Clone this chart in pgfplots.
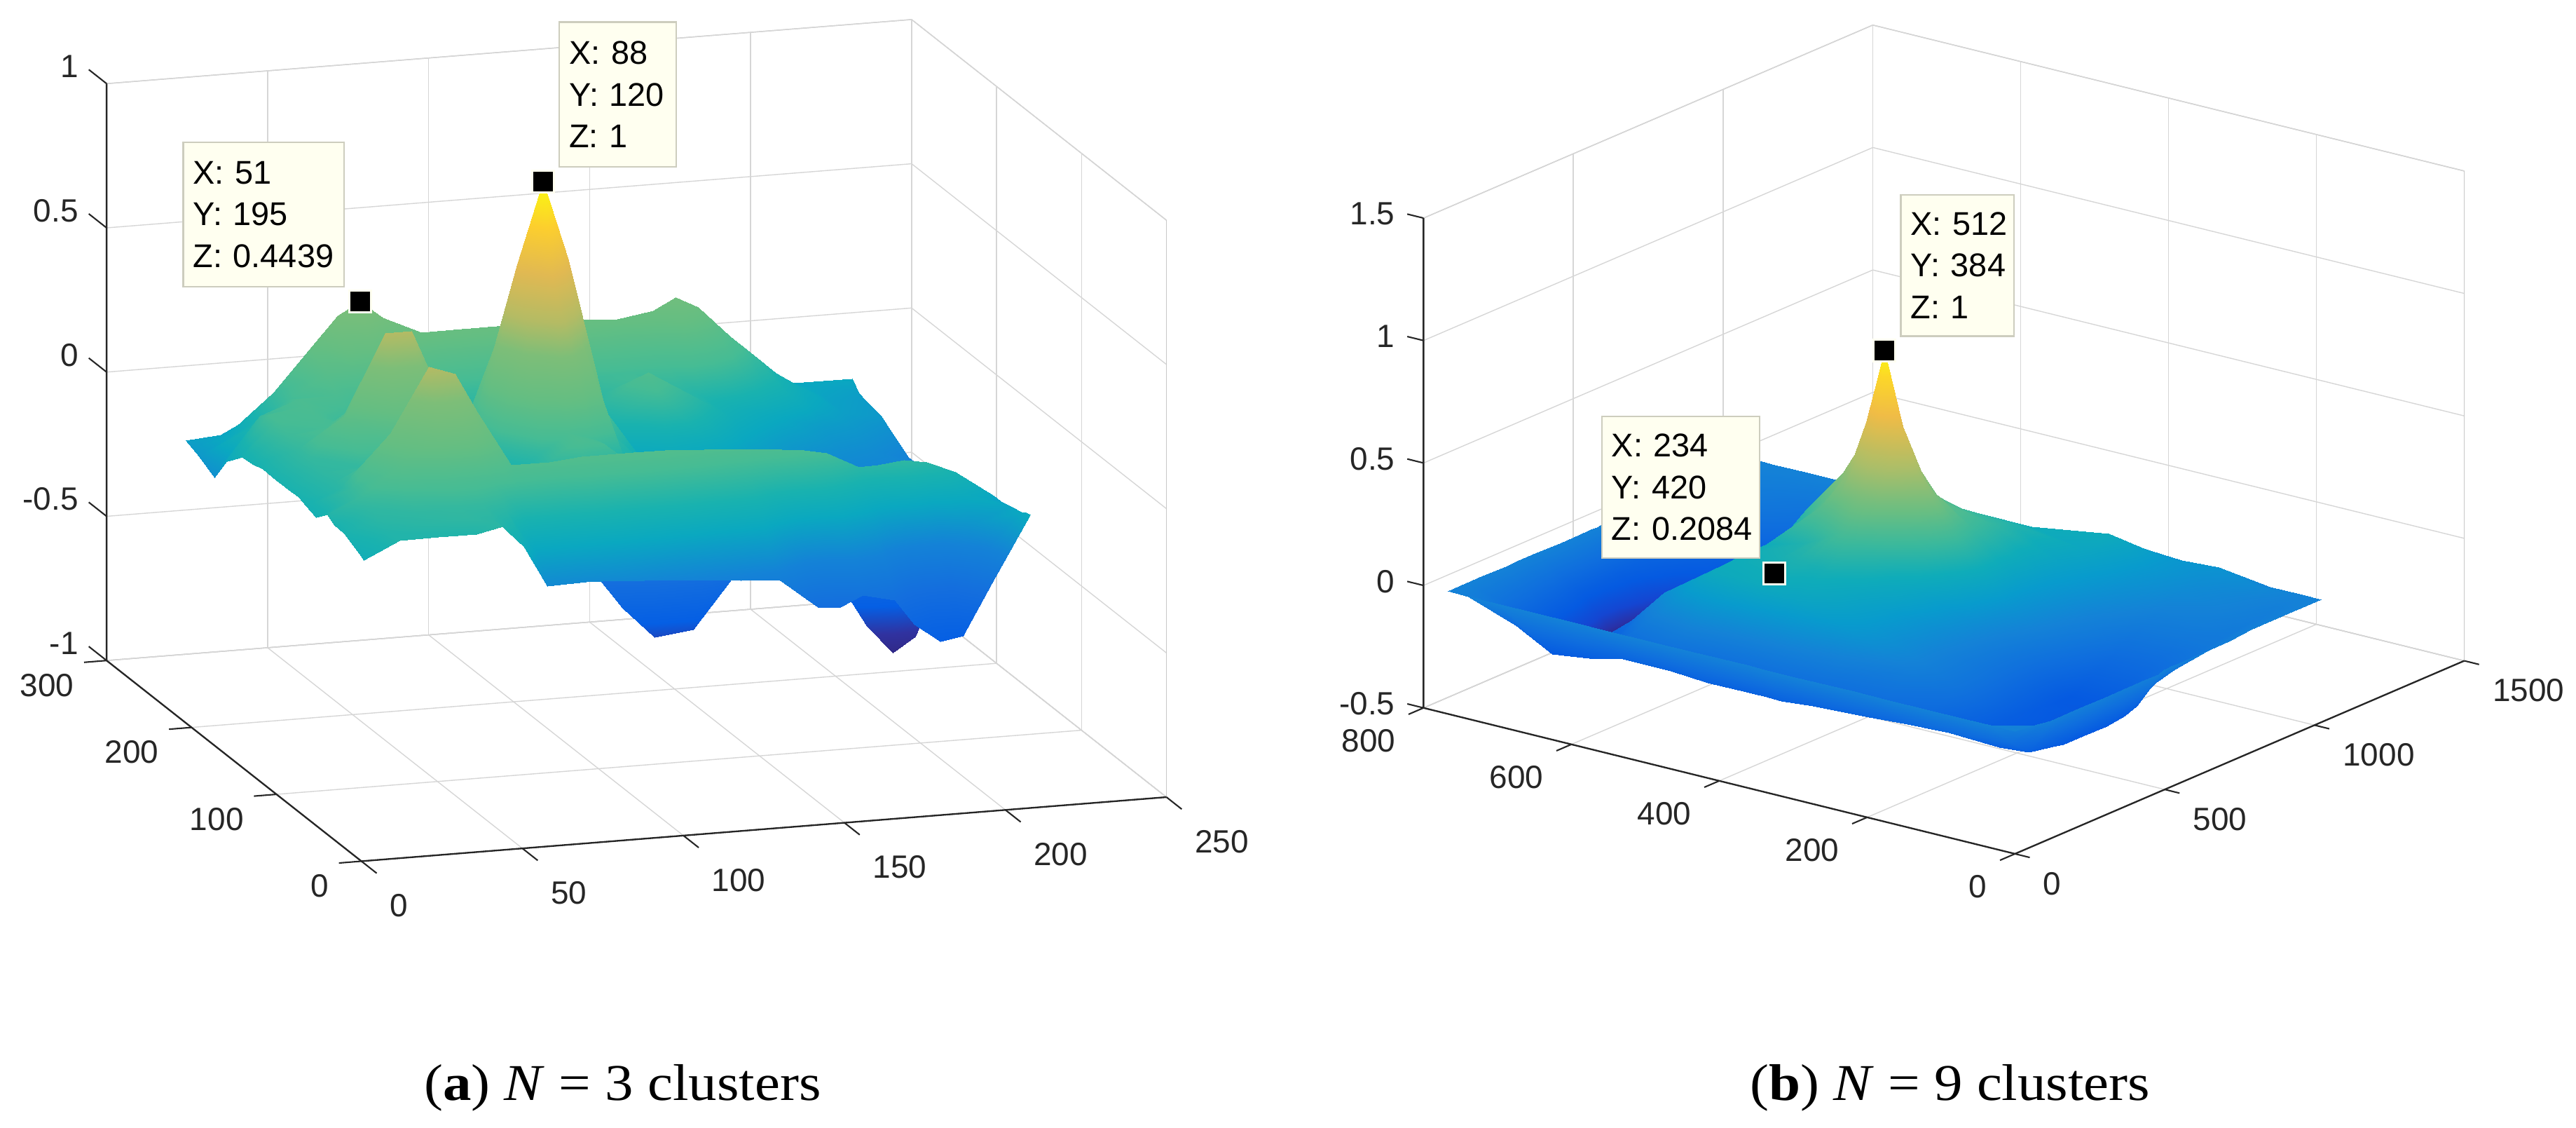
\documentclass[border=0pt]{standalone}
\usepackage{fontspec}
\setmainfont{Liberation Sans}
\newfontfamily\capfont[FakeStretch=1.1]{Liberation Serif}
\usepackage{pgfplots}
\pgfplotsset{compat=1.18}
\definecolor{tick}{RGB}{38,38,38}
\definecolor{tipfill}{RGB}{255,255,240}
\definecolor{tipline}{RGB}{205,205,190}
\pgfplotsset{
  colormap={lmap}{rgb255(0pt)=(50,38,125) rgb255(10pt)=(48,50,160) rgb255(20pt)=(5,95,228) rgb255(35pt)=(20,110,222) rgb255(48pt)=(20,130,215) rgb255(60pt)=(10,168,192) rgb255(68pt)=(25,178,175) rgb255(78pt)=(70,188,148) rgb255(90pt)=(100,190,130) rgb255(104pt)=(125,190,120) rgb255(115pt)=(180,187,100) rgb255(130pt)=(225,185,82) rgb255(145pt)=(252,206,46) rgb255(160pt)=(249,251,14)},
  colormap={rmap}{rgb255(0pt)=(45,40,140) rgb255(2pt)=(40,50,170) rgb255(6pt)=(20,70,210) rgb255(12pt)=(5,90,225) rgb255(22pt)=(15,110,222) rgb255(32pt)=(20,130,215) rgb255(42pt)=(8,155,205) rgb255(52pt)=(15,172,185) rgb255(62pt)=(60,185,155) rgb255(72pt)=(105,190,130) rgb255(87pt)=(170,190,105) rgb255(107pt)=(240,188,70) rgb255(122pt)=(252,215,40) rgb255(132pt)=(249,251,14)},
  wall/.style={
    clip=false, grid=major, major grid style={black!16, line width=0.3pt},
    axis line style={black!22, line width=0.3pt},
    tick align=outside, major tick length=6.5pt, xtick pos=left, ytick pos=left, ztick pos=left,
    tick style={draw=none},
    ticklabel style={font=\fontsize{9.8}{11}\selectfont, text=tick},
  },
  tip/.style={mark=square*, only marks, mark size=3.3pt, mark options={fill=black, draw=tipfill, line width=0.6pt}},
}
\tikzset{datatip/.style={draw=tipline, fill=tipfill, line width=0.5pt, anchor=north west, align=left, inner sep=0pt, font=\fontsize{10}{12.7}\selectfont, text=black}}
\begin{document}
\begin{tikzpicture}[x=0.5pt,y=0.5pt]
\useasboundingbox (0,0) rectangle (1568,686);
\begin{axis}[wall, colormap name=lmap, at={(110pt,168.75pt)}, anchor=origin,
  x={(0.98pt,0.078pt)}, y={(-0.2585pt,0.2035pt)}, z={(0pt,87.75pt)},
  xmin=0, xmax=250, ymin=0, ymax=300, zmin=-1, zmax=1,
  xtick={0,50,100,150,200,250}, ytick={0,100,200,300}, ztick={-1,-0.5,0,0.5,1},
  xticklabels={0,50,100,150,200,250}, yticklabels={0,100,200,300}, zticklabels={-1,-0.5,0,0.5,1},
  xticklabel style={anchor=west, yshift=-9.5pt},
  yticklabel style={anchor=east, yshift=-7pt},
  zticklabel style={anchor=east, yshift=1.2pt},
  point meta min=-0.6, point meta max=1]
\addplot3[surf, shader=interp, point meta=z] coordinates {
(1,1,0.04)(12,1,0.10)(24,1,0.10)(36,1,0.10)(44,1,0.12)(51,1,0.04)(58,1,-0.10)(70,1,-0.096)(80,1,-0.10)(88,1,-0.106)(96,1,-0.113)(106,1,-0.12)(118,1,-0.133)(130,1,-0.143)(142,1,-0.248)(149,1,-0.254)(156,1,-0.218)(166,1,-0.244)(172,1,-0.335)(180,1,-0.40)(187,1,-0.388)(196,1,-0.214)(208,1,0.015)

(1,6,0.05)(12,6,0.10)(24,6,0.10)(36,6,0.11)(44,6,0.12)(51,6,0.05)(58,6,-0.06)(70,6,-0.06)(80,6,-0.06)(88,6,-0.067)(96,6,-0.073)(106,6,-0.08)(118,6,-0.09)(130,6,-0.10)(142,6,-0.196)(149,6,-0.20)(156,6,-0.172)(166,6,-0.20)(172,6,-0.28)(180,6,-0.34)(187,6,-0.33)(196,6,-0.18)(208,6,0.01)

(1,12,0.06)(12,12,0.10)(24,12,0.12)(36,12,0.13)(44,12,0.12)(51,12,0.08)(58,12,-0.02)(70,12,-0.015)(80,12,-0.015)(88,12,-0.02)(96,12,-0.025)(106,12,-0.03)(118,12,-0.043)(130,12,-0.05)(142,12,-0.133)(149,12,-0.14)(156,12,-0.117)(166,12,-0.15)(172,12,-0.22)(180,12,-0.264)(187,12,-0.26)(196,12,-0.14)(208,12,0.0)

(1,24,0.08)(12,24,0.12)(24,24,0.13)(36,24,0.14)(44,24,0.14)(51,24,0.12)(58,24,0.07)(70,24,0.073)(80,24,0.077)(88,24,0.074)(96,24,0.07)(106,24,0.067)(118,24,0.056)(130,24,0.046)(142,24,-0.008)(149,24,-0.016)(156,24,-0.008)(166,24,-0.05)(172,24,-0.09)(180,24,-0.116)(187,24,-0.12)(196,24,-0.06)(208,24,-0.01)

(1,36,0.08)(12,36,0.13)(24,36,0.17)(36,36,0.20)(44,36,0.20)(51,36,0.18)(58,36,0.16)(70,36,0.16)(80,36,0.167)(88,36,0.166)(96,36,0.165)(106,36,0.163)(118,36,0.153)(130,36,0.143)(142,36,0.115)(149,36,0.106)(156,36,0.10)(166,36,0.05)(172,36,0.033)(180,36,0.03)(187,36,0.02)(196,36,0.02)(208,36,-0.02)

(1,44,0.10)(12,44,0.16)(24,44,0.25)(36,44,0.33)(44,44,0.34)(51,44,0.28)(58,44,0.22)(70,44,0.22)(80,44,0.23)(88,44,0.23)(96,44,0.23)(106,44,0.23)(118,44,0.22)(130,44,0.21)(142,44,0.20)(149,44,0.19)(156,44,0.175)(166,44,0.118)(172,44,0.12)(180,44,0.13)(187,44,0.115)(196,44,0.074)(208,44,-0.02)

(1,57,0.06)(12,57,0.15)(24,57,0.33)(36,57,0.55)(44,57,0.52)(51,57,0.38)(58,57,0.12)(70,57,-0.08)(80,57,-0.12)(88,57,-0.22)(96,57,-0.34)(106,57,-0.45)(118,57,-0.433)(130,57,-0.27)(142,57,-0.24)(149,57,-0.26)(156,57,-0.28)(166,57,-0.357)(172,57,-0.47)(180,57,-0.57)(187,57,-0.52)(196,57,-0.30)(208,57,-0.10)

(1,70,0.07)(12,70,0.12)(24,70,0.22)(36,70,0.36)(44,70,0.34)(51,70,0.26)(58,70,0.15)(70,70,0.07)(80,70,0.10)(88,70,0.12)(96,70,0.08)(106,70,0.02)(118,70,-0.06)(130,70,-0.06)(142,70,-0.05)(149,70,-0.06)(156,70,-0.08)(166,70,-0.12)(172,70,-0.16)(180,70,-0.20)(187,70,-0.18)(196,70,-0.12)(208,70,-0.08)

(1,78,0.08)(12,78,0.12)(24,78,0.16)(36,78,0.22)(44,78,0.21)(51,78,0.16)(58,78,0.10)(70,78,0.08)(80,78,0.15)(88,78,0.20)(96,78,0.18)(106,78,0.09)(118,78,0.02)(130,78,0.0)(142,78,-0.03)(149,78,-0.04)(156,78,-0.06)(166,78,-0.08)(172,78,-0.09)(180,78,-0.11)(187,78,-0.11)(196,78,-0.10)(208,78,-0.09)

(1,90,0.08)(12,90,0.13)(24,90,0.14)(36,90,0.17)(44,90,0.17)(51,90,0.13)(58,90,0.06)(70,90,0.05)(80,90,0.14)(88,90,0.20)(96,90,0.17)(106,90,0.07)(118,90,0.0)(130,90,-0.01)(142,90,-0.04)(149,90,-0.05)(156,90,-0.07)(166,90,-0.09)(172,90,-0.10)(180,90,-0.11)(187,90,-0.12)(196,90,-0.12)(208,90,-0.12)

(1,108,0.08)(12,108,0.14)(24,108,0.28)(36,108,0.55)(44,108,0.55)(51,108,0.37)(58,108,0.16)(70,108,0.14)(80,108,0.49)(88,108,0.69)(96,108,0.49)(106,108,0.14)(118,108,0.0)(130,108,-0.01)(142,108,-0.03)(149,108,-0.05)(156,108,-0.07)(166,108,-0.09)(172,108,-0.10)(180,108,-0.11)(187,108,-0.12)(196,108,-0.12)(208,108,-0.12)

(1,120,0.08)(12,120,0.14)(24,120,0.20)(36,120,0.32)(44,120,0.32)(51,120,0.22)(58,120,0.10)(70,120,0.21)(80,120,0.72)(88,120,1.0)(96,120,0.72)(106,120,0.21)(118,120,0.0)(130,120,0.0)(142,120,-0.02)(149,120,-0.04)(156,120,-0.06)(166,120,-0.08)(172,120,-0.09)(180,120,-0.10)(187,120,-0.11)(196,120,-0.12)(208,120,-0.12)

(1,132,0.07)(12,132,0.16)(24,132,0.18)(36,132,0.15)(44,132,0.12)(51,132,0.08)(58,132,0.06)(70,132,0.17)(80,132,0.52)(88,132,0.70)(96,132,0.52)(106,132,0.17)(118,132,0.02)(130,132,0.05)(142,132,0.03)(149,132,0.0)(156,132,-0.03)(166,132,-0.06)(172,132,-0.08)(180,132,-0.09)(187,132,-0.10)(196,132,-0.11)(208,132,-0.12)

(1,145,0.065)(12,145,0.18)(24,145,0.19)(36,145,0.14)(44,145,0.12)(51,145,0.10)(58,145,0.08)(70,145,0.11)(80,145,0.20)(88,145,0.27)(96,145,0.20)(106,145,0.04)(118,145,0.10)(130,145,0.18)(142,145,0.10)(149,145,0.05)(156,145,0.01)(166,145,-0.03)(172,145,-0.05)(180,145,-0.07)(187,145,-0.08)(196,145,-0.09)(208,145,-0.12)

(1,155,0.03)(12,155,0.18)(24,155,0.20)(36,155,0.17)(44,155,0.13)(51,155,0.10)(58,155,0.07)(70,155,0.07)(80,155,0.10)(88,155,0.12)(96,155,0.10)(106,155,0.07)(118,155,0.14)(130,155,0.22)(142,155,0.14)(149,155,0.09)(156,155,0.04)(166,155,0.0)(172,155,-0.02)(180,155,-0.04)(187,155,-0.06)(196,155,-0.07)(208,155,-0.10)

(1,165,0.0)(12,165,0.15)(24,165,0.20)(36,165,0.20)(44,165,0.16)(51,165,0.14)(58,165,0.10)(70,165,0.09)(80,165,0.09)(88,165,0.10)(96,165,0.09)(106,165,0.09)(118,165,0.13)(130,165,0.17)(142,165,0.13)(149,165,0.10)(156,165,0.07)(166,165,0.03)(172,165,0.01)(180,165,-0.02)(187,165,-0.04)(196,165,-0.05)(208,165,-0.08)

(1,177,-0.08)(12,177,0.08)(24,177,0.17)(36,177,0.25)(44,177,0.26)(51,177,0.25)(58,177,0.20)(70,177,0.16)(80,177,0.15)(88,177,0.15)(96,177,0.15)(106,177,0.15)(118,177,0.16)(130,177,0.17)(142,177,0.18)(149,177,0.20)(156,177,0.18)(166,177,0.12)(172,177,0.08)(180,177,0.04)(187,177,0.0)(196,177,-0.03)(208,177,-0.05)

(1,195,-0.05)(12,195,0.02)(24,195,0.15)(36,195,0.30)(44,195,0.40)(51,195,0.4439)(58,195,0.38)(70,195,0.32)(80,195,0.32)(88,195,0.32)(96,195,0.32)(106,195,0.32)(118,195,0.32)(130,195,0.31)(142,195,0.33)(149,195,0.37)(156,195,0.33)(166,195,0.22)(172,195,0.16)(180,195,0.08)(187,195,0.03)(196,195,-0.02)(208,195,-0.04)

(1,203,-0.04)(12,203,0.0)(24,203,0.08)(36,203,0.15)(44,203,0.20)(51,203,0.22)(58,203,0.20)(70,203,0.17)(80,203,0.17)(88,203,0.17)(96,203,0.17)(106,203,0.17)(118,203,0.17)(130,203,0.17)(142,203,0.18)(149,203,0.20)(156,203,0.18)(166,203,0.12)(172,203,0.09)(180,203,0.05)(187,203,0.02)(196,203,-0.01)(208,203,-0.03)

(1,211,-0.03)(12,211,-0.02)(24,211,0.0)(36,211,0.02)(44,211,0.03)(51,211,0.04)(58,211,0.03)(70,211,0.02)(80,211,0.02)(88,211,0.02)(96,211,0.02)(106,211,0.02)(118,211,0.02)(130,211,0.02)(142,211,0.02)(149,211,0.03)(156,211,0.02)(166,211,0.01)(172,211,0.0)(180,211,0.0)(187,211,0.0)(196,211,0.0)(208,211,0.0)
};
\addplot3[tip] coordinates {(88,120,1) (51,195,0.4439)};
% axis lines and ticks in the MATLAB directions
\draw[tick, line width=0.5pt] (0,300,-1)--(0,0,-1)--(250,0,-1) (0,300,-1)--(0,300,1);
\draw[tick, line width=0.45pt]
  (0,0,-1)--(0,-18,-1) (50,0,-1)--(50,-18,-1) (100,0,-1)--(100,-18,-1) (150,0,-1)--(150,-18,-1) (200,0,-1)--(200,-18,-1) (250,0,-1)--(250,-18,-1)
  (0,0,-1)--(-7,0,-1) (0,100,-1)--(-7,100,-1) (0,200,-1)--(-7,200,-1) (0,300,-1)--(-7,300,-1)
  (0,300,-1)--(0,321,-1) (0,300,-0.5)--(0,321,-0.5) (0,300,0)--(0,321,0) (0,300,0.5)--(0,321,0.5) (0,300,1)--(0,321,1);
\end{axis}
\begin{axis}[wall, colormap name=rmap, at={(613.25pt,120.5pt)}, anchor=origin,
  x={(0.09115pt,0.03915pt)}, y={(-0.225pt,0.0555pt)}, z={(0pt,74.5pt)},
  xmin=0, xmax=1500, ymin=0, ymax=800, zmin=-0.5, zmax=1.5,
  xtick={0,500,1000,1500}, ytick={0,200,400,600,800}, ztick={-0.5,0,0.5,1,1.5},
  xticklabels={0,500,1000,1500}, yticklabels={0,200,400,600,800}, zticklabels={-0.5,0,0.5,1,1.5},
  xticklabel style={anchor=west, xshift=-1.2pt, yshift=-7.5pt},
  yticklabel style={anchor=east, xshift=1pt, yshift=-7.5pt},
  zticklabel style={anchor=east, xshift=1.1pt, yshift=-0.3pt},
  point meta min=-0.32, point meta max=1]
\addplot3[surf, shader=interp, point meta=z] coordinates {
(1,1,0)(60,1,-0.01)(120,1,-0.02)(200,1,-0.02)(234,1,-0.02)(300,1,-0.02)(380,1,-0.02)(440,1,-0.02)(480,1,-0.02)(500,1,-0.01)(512,1,-0.01)(524,1,-0.01)(544,1,-0.01)(590,1,-0.01)(660,1,-0.01)(720,1,-0.01)(790,1,0)(860,1,0)(930,1,0)(975,1,0)(1024,1,0)

(1,30,0)(60,30,-0.10)(120,30,-0.17)(200,30,-0.19)(234,30,-0.20)(300,30,-0.20)(380,30,-0.20)(440,30,-0.19)(480,30,-0.17)(500,30,-0.14)(512,30,-0.13)(524,30,-0.12)(544,30,-0.11)(590,30,-0.09)(660,30,-0.07)(720,30,-0.05)(790,30,-0.04)(860,30,-0.03)(930,30,-0.02)(975,30,-0.01)(1024,30,0)

(1,70,0)(60,70,-0.11)(120,70,-0.18)(200,70,-0.21)(234,70,-0.22)(300,70,-0.22)(380,70,-0.22)(440,70,-0.21)(480,70,-0.20)(500,70,-0.19)(512,70,-0.18)(524,70,-0.17)(544,70,-0.16)(590,70,-0.13)(660,70,-0.09)(720,70,-0.05)(790,70,-0.02)(860,70,0)(930,70,0.01)(975,70,0.03)(1024,70,0)

(1,120,0)(60,120,-0.12)(120,120,-0.17)(200,120,-0.18)(234,120,-0.18)(300,120,-0.18)(380,120,-0.19)(440,120,-0.20)(480,120,-0.20)(500,120,-0.19)(512,120,-0.18)(524,120,-0.17)(544,120,-0.16)(590,120,-0.13)(660,120,-0.08)(720,120,-0.04)(790,120,0)(860,120,0.03)(930,120,0.05)(975,120,0.07)(1024,120,0)

(1,170,0)(60,170,-0.13)(120,170,-0.13)(200,170,-0.08)(234,170,-0.07)(300,170,-0.07)(380,170,-0.08)(440,170,-0.08)(480,170,-0.07)(500,170,-0.06)(512,170,-0.06)(524,170,-0.05)(544,170,-0.04)(590,170,-0.02)(660,170,0.01)(720,170,0.04)(790,170,0.07)(860,170,0.09)(930,170,0.09)(975,170,0.06)(1024,170,0)

(1,222,0)(60,222,-0.14)(120,222,-0.09)(200,222,-0.02)(234,222,0)(300,222,0)(380,222,0.01)(440,222,0.03)(480,222,0.05)(500,222,0.06)(512,222,0.07)(524,222,0.08)(544,222,0.08)(590,222,0.09)(660,222,0.11)(720,222,0.13)(790,222,0.16)(860,222,0.19)(930,222,0.11)(975,222,0.05)(1024,222,0)

(1,298,0)(60,298,-0.15)(120,298,-0.07)(200,298,0.08)(234,298,0.10)(300,298,0.12)(380,298,0.17)(440,298,0.25)(480,298,0.30)(500,298,0.32)(512,298,0.33)(524,298,0.33)(544,298,0.32)(590,298,0.30)(660,298,0.28)(720,298,0.25)(790,298,0.20)(860,298,0.10)(930,298,0.03)(975,298,0)(1024,298,0)

(1,340,0)(60,340,-0.16)(120,340,-0.06)(200,340,0.12)(234,340,0.15)(300,340,0.18)(380,340,0.26)(440,340,0.36)(480,340,0.44)(500,340,0.50)(512,340,0.53)(524,340,0.52)(544,340,0.47)(590,340,0.38)(660,340,0.31)(720,340,0.26)(790,340,0.13)(860,340,0.04)(930,340,0)(975,340,0)(1024,340,0)

(1,364,0)(60,364,-0.16)(120,364,-0.05)(200,364,0.14)(234,364,0.17)(300,364,0.21)(380,364,0.30)(440,364,0.42)(480,364,0.58)(500,364,0.70)(512,364,0.73)(524,364,0.70)(544,364,0.58)(590,364,0.41)(660,364,0.31)(720,364,0.22)(790,364,0.09)(860,364,0.02)(930,364,0)(975,364,0)(1024,364,0)

(1,376,0)(60,376,-0.16)(120,376,-0.05)(200,376,0.15)(234,376,0.18)(300,376,0.22)(380,376,0.32)(440,376,0.44)(480,376,0.61)(500,376,0.80)(512,376,0.90)(524,376,0.80)(544,376,0.61)(590,376,0.43)(660,376,0.32)(720,376,0.20)(790,376,0.08)(860,376,0.01)(930,376,0)(975,376,0)(1024,376,0)

(1,384,0)(60,384,-0.16)(120,384,-0.05)(200,384,0.15)(234,384,0.18)(300,384,0.22)(380,384,0.33)(440,384,0.45)(480,384,0.62)(500,384,0.85)(512,384,1.0)(524,384,0.85)(544,384,0.62)(590,384,0.44)(660,384,0.33)(720,384,0.18)(790,384,0.06)(860,384,0)(930,384,0)(975,384,0)(1024,384,0)

(1,392,0)(60,392,-0.16)(120,392,-0.05)(200,392,0.16)(234,392,0.19)(300,392,0.22)(380,392,0.32)(440,392,0.44)(480,392,0.61)(500,392,0.80)(512,392,0.90)(524,392,0.80)(544,392,0.61)(590,392,0.43)(660,392,0.31)(720,392,0.17)(790,392,0.05)(860,392,0)(930,392,-0.01)(975,392,0)(1024,392,0)

(1,404,0)(60,404,-0.16)(120,404,-0.05)(200,404,0.17)(234,404,0.20)(300,404,0.23)(380,404,0.30)(440,404,0.42)(480,404,0.58)(500,404,0.70)(512,404,0.73)(524,404,0.70)(544,404,0.58)(590,404,0.41)(660,404,0.29)(720,404,0.15)(790,404,0.04)(860,404,0)(930,404,-0.01)(975,404,0)(1024,404,0)

(1,420,0)(60,420,-0.16)(120,420,-0.04)(200,420,0.19)(234,420,0.2084)(300,420,0.23)(380,420,0.27)(440,420,0.39)(480,420,0.49)(500,420,0.55)(512,420,0.57)(524,420,0.55)(544,420,0.49)(590,420,0.37)(660,420,0.25)(720,420,0.13)(790,420,0.03)(860,420,-0.01)(930,420,-0.02)(975,420,-0.01)(1024,420,0)

(1,440,0)(60,440,-0.16)(120,440,-0.03)(200,440,0.19)(234,440,0.20)(300,440,0.22)(380,440,0.24)(440,440,0.36)(480,440,0.40)(500,440,0.44)(512,440,0.46)(524,440,0.44)(544,440,0.40)(590,440,0.33)(660,440,0.22)(720,440,0.12)(790,440,0.04)(860,440,0)(930,440,-0.02)(975,440,-0.01)(1024,440,0)

(1,490,0)(60,490,-0.15)(120,490,0)(200,490,0.18)(234,490,0.19)(300,490,0.20)(380,490,0.20)(440,490,0.20)(480,490,0.24)(500,490,0.26)(512,490,0.27)(524,490,0.26)(544,490,0.25)(590,490,0.20)(660,490,0.12)(720,490,0.05)(790,490,-0.02)(860,490,-0.04)(930,490,-0.04)(975,490,-0.02)(1024,490,0)

(1,555,0)(60,555,-0.15)(120,555,-0.05)(200,555,0.05)(234,555,0.03)(300,555,0)(380,555,-0.02)(440,555,-0.04)(480,555,-0.04)(500,555,-0.03)(512,555,-0.03)(524,555,-0.03)(544,555,-0.03)(590,555,-0.04)(660,555,-0.05)(720,555,-0.06)(790,555,-0.06)(860,555,-0.05)(930,555,-0.04)(975,555,-0.02)(1024,555,0)

(1,600,0)(60,600,-0.18)(120,600,-0.17)(200,600,-0.10)(234,600,-0.10)(300,600,-0.12)(380,600,-0.14)(440,600,-0.16)(480,600,-0.16)(500,600,-0.16)(512,600,-0.16)(524,600,-0.15)(544,600,-0.15)(590,600,-0.14)(660,600,-0.13)(720,600,-0.12)(790,600,-0.10)(860,600,-0.08)(930,600,-0.06)(975,600,-0.04)(1024,600,0)

(1,650,0)(60,650,-0.20)(120,650,-0.24)(200,650,-0.24)(234,650,-0.25)(300,650,-0.26)(380,650,-0.27)(440,650,-0.28)(480,650,-0.27)(500,650,-0.27)(512,650,-0.27)(524,650,-0.26)(544,650,-0.26)(590,650,-0.25)(660,650,-0.22)(720,650,-0.20)(790,650,-0.15)(860,650,-0.10)(930,650,-0.07)(975,650,-0.04)(1024,650,0)

(1,700,0)(60,700,-0.12)(120,700,-0.20)(200,700,-0.25)(234,700,-0.26)(300,700,-0.28)(380,700,-0.31)(440,700,-0.31)(480,700,-0.29)(500,700,-0.28)(512,700,-0.28)(524,700,-0.27)(544,700,-0.26)(590,700,-0.22)(660,700,-0.17)(720,700,-0.13)(790,700,-0.10)(860,700,-0.06)(930,700,-0.04)(975,700,-0.02)(1024,700,0)

(1,740,0)(60,740,-0.04)(120,740,-0.08)(200,740,-0.10)(234,740,-0.12)(300,740,-0.14)(380,740,-0.18)(440,740,-0.18)(480,740,-0.17)(500,740,-0.17)(512,740,-0.17)(524,740,-0.16)(544,740,-0.16)(590,740,-0.15)(660,740,-0.11)(720,740,-0.08)(790,740,-0.07)(860,740,-0.03)(930,740,-0.02)(975,740,-0.01)(1024,740,0)

(1,768,0)(60,768,0)(120,768,0)(200,768,0)(234,768,0)(300,768,0)(380,768,0)(440,768,0)(480,768,0)(500,768,0)(512,768,0)(524,768,0)(544,768,0)(590,768,0)(660,768,0)(720,768,0)(790,768,0)(860,768,0)(930,768,0)(975,768,0)(1024,768,0)
};
\addplot3[tip] coordinates {(512,384,1) (234,420,0.2084)};
\draw[tick, line width=0.5pt] (0,800,-0.5)--(0,0,-0.5)--(1500,0,-0.5) (0,800,-0.5)--(0,800,1.5);
\draw[tick, line width=0.45pt]
  (0,0,-0.5)--(0,-20,-0.5) (500,0,-0.5)--(500,-20,-0.5) (1000,0,-0.5)--(1000,-20,-0.5) (1500,0,-0.5)--(1500,-20,-0.5)
  (0,0,-0.5)--(-50,0,-0.5) (0,200,-0.5)--(-50,200,-0.5) (0,400,-0.5)--(-50,400,-0.5) (0,600,-0.5)--(-50,600,-0.5) (0,800,-0.5)--(-50,800,-0.5)
  (0,800,-0.5)--(0,822,-0.5) (0,800,0)--(0,822,0) (0,800,0.5)--(0,822,0.5) (0,800,1)--(0,822,1) (0,800,1.5)--(0,822,1.5);
\end{axis}
\node[datatip, text width=35.5pt, minimum height=44pt] at (340,673) {\hspace*{3pt}X: 88\\\hspace*{3pt}Y: 120\\\hspace*{3pt}Z: 1};
\node[datatip, text width=49pt, minimum height=44pt] at (111,600) {\hspace*{3pt}X: 51\\\hspace*{3pt}Y: 195\\\hspace*{3pt}Z: 0.4439};
\node[datatip, text width=34.5pt, minimum height=43pt] at (1156.5,568) {\hspace*{3pt}X: 512\\\hspace*{3pt}Y: 384\\\hspace*{3pt}Z: 1};
\node[datatip, text width=48pt, minimum height=43pt] at (974.5,433) {\hspace*{3pt}X: 234\\\hspace*{3pt}Y: 420\\\hspace*{3pt}Z: 0.2084};
\node[font=\capfont\fontsize{15.7}{18}\selectfont] at (379,24) {(\textbf{a}) \textit{N} = 3 clusters};
\node[font=\capfont\fontsize{15.7}{18}\selectfont] at (1187,24) {(\textbf{b}) \textit{N} = 9 clusters};
\end{tikzpicture}
\end{document}
